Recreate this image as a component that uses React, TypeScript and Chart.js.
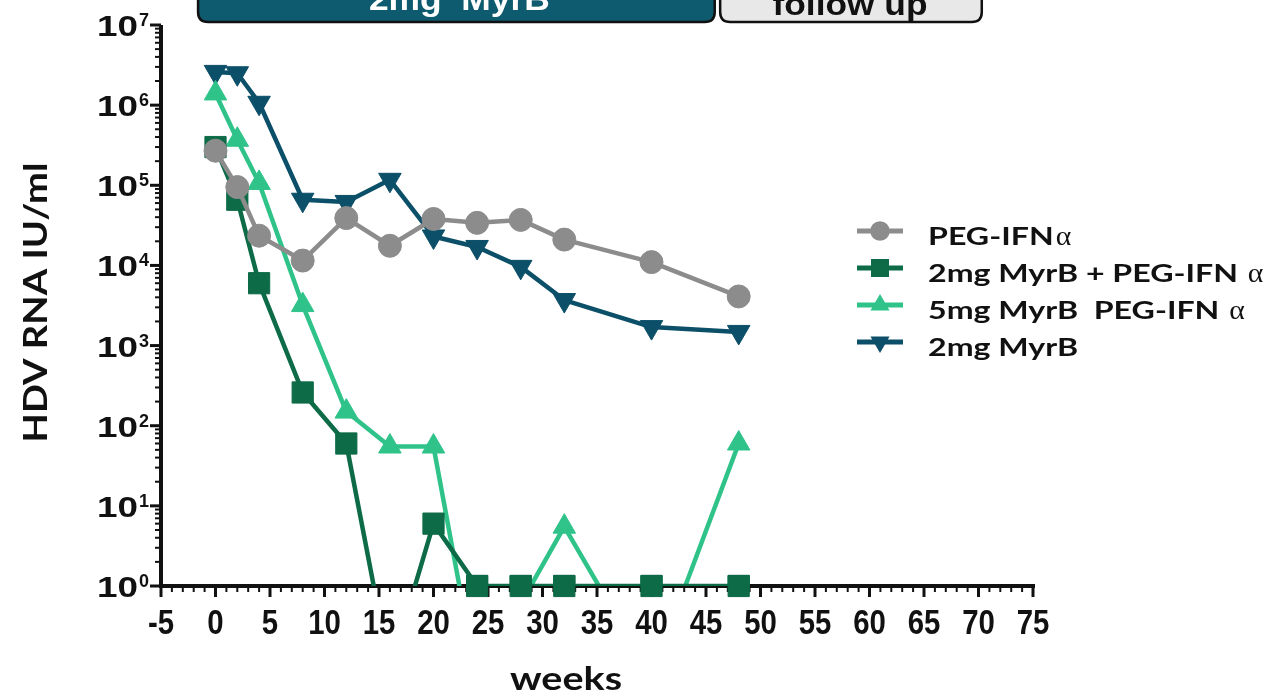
import React, { useEffect, useRef } from 'react';
import { Chart, registerables } from 'chart.js';

Chart.register(...registerables);

// Sampling weeks shared by every treatment arm
const WEEKS = [0, 2, 4, 8, 12, 16, 20, 24, 28, 32, 40, 48];

// Median HDV RNA (IU/ml) per arm; values below 1 fall under the axis floor
const PEG_IFN = [2.7e5, 9.5e4, 2.35e4, 1.15e4, 3.9e4, 1.76e4, 3.8e4, 3.4e4, 3.7e4, 2.1e4, 1.1e4, 4.1e3];
const MYRB2_PEG_IFN = [3.0e5, 6.6e4, 6.0e3, 2.6e2, 60, 0.09, 6, 1, 1, 1, 1, 1];
const MYRB5_PEG_IFN = [1.4e6, 3.7e5, 1.07e5, 3.2e3, 150, 55, 55, 0.065, 0.6, 5.5, 0.075, 60];
const MYRB2 = [2.6e6, 2.5e6, 1.07e6, 6.6e4, 6.2e4, 1.17e5, 2.3e4, 1.7e4, 9.6e3, 3.7e3, 1.7e3, 1.48e3];

const SERIES_LABELS = ['PEG-IFNα', '2mg MyrB + PEG-IFN α', '5mg MyrB  PEG-IFN α', '2mg MyrB'];
const SERIES_COLORS = ['#8c8c8c', '#0d6b48', '#2fc38a', '#0c4f68'];
const SERIES_STYLES = ['circle', 'rect', 'triangle', 'triangle'];
const SERIES_ROTATION = [0, 0, 0, 180];
const SERIES_RADIUS = [11.5, 15, 13, 13];

// Axis ticks
const X_MIN = -5;
const X_MAX = 75;
const X_TICKS = [-5, 0, 5, 10, 15, 20, 25, 30, 35, 40, 45, 50, 55, 60, 65, 70, 75];
const Y_EXPONENTS = [0, 1, 2, 3, 4, 5, 6, 7];

// Study phases shown above the plot (weeks)
const PHASE_LABELS = ['2mg  MyrB', 'follow up'];
const PHASE_START = [-1.6, 46.3];
const PHASE_END = [45.8, 70.3];

const INK = '#111111';
const PHASE_FILL = ['#0e5a6e', '#e8e8e8'];
const PHASE_TEXT = ['#ffffff', '#111111'];

function drawScaled(ctx, text, x, y, font, sx, align = 'left') {
  ctx.save();
  ctx.font = font;
  ctx.textAlign = align;
  ctx.textBaseline = 'alphabetic';
  ctx.translate(x, y);
  ctx.scale(sx, 1);
  ctx.fillText(text, 0, 0);
  ctx.restore();
}

function scaleToWidth(ctx, text, font, width) {
  ctx.save();
  ctx.font = font;
  const w = ctx.measureText(text).width;
  ctx.restore();
  return width / w;
}

function textWidth(ctx, text, font) {
  ctx.save();
  ctx.font = font;
  const w = ctx.measureText(text).width;
  ctx.restore();
  return w;
}

function drawMarker(ctx, style, rotation, x, y, r, color) {
  ctx.save();
  ctx.fillStyle = color;
  ctx.beginPath();
  if (style === 'circle') {
    ctx.arc(x, y, r, 0, Math.PI * 2);
  } else if (style === 'rect') {
    const s = r * Math.SQRT1_2;
    ctx.rect(x - s, y - s, 2 * s, 2 * s);
  } else {
    let rad = (rotation * Math.PI) / 180;
    for (let i = 0; i < 3; i++) {
      const px = x + Math.sin(rad) * r;
      const py = y - Math.cos(rad) * r;
      if (i === 0) ctx.moveTo(px, py);
      else ctx.lineTo(px, py);
      rad += (2 * Math.PI) / 3;
    }
    ctx.closePath();
  }
  ctx.fill();
  ctx.restore();
}

function roundRect(ctx, x0, y0, x1, y1, r) {
  ctx.beginPath();
  ctx.moveTo(x0 + r, y0);
  ctx.lineTo(x1 - r, y0);
  ctx.quadraticCurveTo(x1, y0, x1, y0 + r);
  ctx.lineTo(x1, y1 - r);
  ctx.quadraticCurveTo(x1, y1, x1 - r, y1);
  ctx.lineTo(x0 + r, y1);
  ctx.quadraticCurveTo(x0, y1, x0, y1 - r);
  ctx.lineTo(x0, y0 + r);
  ctx.quadraticCurveTo(x0, y0, x0 + r, y0);
  ctx.closePath();
}

// Axis lines with major and minor tick marks, drawn beneath the series
const axesPlugin = {
  id: 'hdvAxes',
  beforeDatasetsDraw(chart) {
    const { ctx, chartArea: a } = chart;
    const xs = chart.scales.x;
    const ys = chart.scales.y;
    ctx.save();
    ctx.strokeStyle = INK;
    ctx.lineCap = 'butt';
    const seg = (x0, y0, x1, y1, w) => {
      ctx.lineWidth = w;
      ctx.beginPath();
      ctx.moveTo(x0, y0);
      ctx.lineTo(x1, y1);
      ctx.stroke();
    };
    for (let w = X_MIN; w <= X_MAX; w++) {
      const px = xs.getPixelForValue(w);
      const major = w % 5 === 0;
      seg(px, a.bottom, px, a.bottom + (major ? 11 : 6), major ? 3 : 2);
    }
    for (let k = 0; k < Y_EXPONENTS.length; k++) {
      const e = Y_EXPONENTS[k];
      const py = ys.getPixelForValue(Math.pow(10, e));
      seg(a.left - 11, py, a.left, py, 3);
      if (k < Y_EXPONENTS.length - 1) {
        for (let m = 2; m <= 9; m++) {
          const pm = ys.getPixelForValue(m * Math.pow(10, e));
          seg(a.left - 6, pm, a.left, pm, 2);
        }
      }
    }
    seg(a.left - 2, a.bottom, a.right + 2, a.bottom, 4);
    seg(a.left, a.top, a.left, a.bottom + 2, 4);
    ctx.restore();
  },
  afterDatasetsDraw(chart) {
    // markers sitting on the axis floor are drawn again without the plot clip
    const floor = chart.scales.y.min;
    chart.data.datasets.forEach((ds, i) => {
      const meta = chart.getDatasetMeta(i);
      meta.data.forEach((el, j) => {
        if (ds.data[j].y === floor) el.draw(chart.ctx);
      });
    });
  },
};

// Tick labels, titles, legend and the phase bars
const labelsPlugin = {
  id: 'hdvLabels',
  afterDraw(chart) {
    const { ctx, chartArea: a } = chart;
    const xs = chart.scales.x;
    const ys = chart.scales.y;
    ctx.save();
    ctx.fillStyle = INK;

    // x tick labels
    const xFont = 'bold 35px "Liberation Sans", Arial, sans-serif';
    X_TICKS.forEach((t) => {
      drawScaled(ctx, String(t), xs.getPixelForValue(t), a.bottom + 48, xFont, 0.84, 'center');
    });

    // y tick labels as powers of ten
    const baseFont = 'bold 30px "Liberation Sans", Arial, sans-serif';
    const expFont = 'bold 18px "Liberation Sans", Arial, sans-serif';
    const baseSx = scaleToWidth(ctx, '10', baseFont, 41);
    Y_EXPONENTS.forEach((e) => {
      const py = ys.getPixelForValue(Math.pow(10, e));
      drawScaled(ctx, '10', a.left - 23, py + 11, baseFont, baseSx, 'right');
      drawScaled(ctx, String(e), a.left - 22, py + 1, expFont, 1, 'left');
    });

    // axis titles
    const titleFont = 'bold 33px Lato, "Open Sans", sans-serif';
    const yTitle = 'HDV RNA IU/ml';
    const ySx = scaleToWidth(ctx, yTitle, titleFont, 280);
    ctx.save();
    ctx.translate(47, (a.top + a.bottom) / 2 - 3);
    ctx.rotate(-Math.PI / 2);
    drawScaled(ctx, yTitle, 0, 0, titleFont, ySx, 'center');
    ctx.restore();
    const xTitle = 'weeks';
    drawScaled(ctx, xTitle, 566, 690, titleFont, scaleToWidth(ctx, xTitle, titleFont, 112), 'center');

    // legend
    const legFont = 'bold 25px Lato, "Open Sans", sans-serif';
    const alphaFont = '27px "Liberation Serif", "DejaVu Serif", serif';
    const legSx = scaleToWidth(ctx, '2mg MyrB + PEG-IFN', legFont, 310);
    const legX = 928;
    const legY0 = 245;
    const legStep = 37;
    chart.data.datasets.forEach((ds, i) => {
      const base = legY0 + i * legStep;
      const my = base - 14;
      ctx.save();
      ctx.strokeStyle = ds.borderColor;
      ctx.lineWidth = 5;
      ctx.beginPath();
      ctx.moveTo(857, my);
      ctx.lineTo(903, my);
      ctx.stroke();
      ctx.restore();
      drawMarker(ctx, ds.pointStyle, ds.pointRotation, 880, my, ds.pointRadius * 0.85, ds.borderColor);
      const label = ds.label;
      const hasAlpha = label.endsWith('α');
      const main = hasAlpha ? label.slice(0, -1) : label;
      ctx.fillStyle = INK;
      drawScaled(ctx, main, legX, base, legFont, legSx, 'left');
      if (hasAlpha) {
        const w = textWidth(ctx, main, legFont) * legSx;
        drawScaled(ctx, 'α', legX + w + 2, base, alphaFont, 1.1, 'left');
      }
    });

    // phase bars along the top edge
    const phaseFont = 'bold 32px "Liberation Sans", Arial, sans-serif';
    const phaseWidth = [181, 155];
    const phaseBase = [10, 15];
    PHASE_LABELS.forEach((lab, i) => {
      const x0 = xs.getPixelForValue(PHASE_START[i]);
      const x1 = xs.getPixelForValue(PHASE_END[i]);
      ctx.save();
      roundRect(ctx, x0, -20, x1, 22, 10);
      ctx.fillStyle = PHASE_FILL[i];
      ctx.fill();
      ctx.lineWidth = 2.5;
      ctx.strokeStyle = INK;
      ctx.stroke();
      ctx.restore();
      ctx.fillStyle = PHASE_TEXT[i];
      drawScaled(ctx, lab, (x0 + x1) / 2 + (i === 0 ? 3 : -1), phaseBase[i], phaseFont,
        scaleToWidth(ctx, lab, phaseFont, phaseWidth[i]), 'center');
    });

    ctx.restore();
  },
};

export default function App() {
  const canvasRef = useRef(null);

  useEffect(() => {
    const arms = [PEG_IFN, MYRB2_PEG_IFN, MYRB5_PEG_IFN, MYRB2];
    const datasets = arms.map((vals, i) => ({
      label: SERIES_LABELS[i],
      data: WEEKS.map((w, j) => ({ x: w, y: vals[j] })),
      borderColor: SERIES_COLORS[i],
      backgroundColor: SERIES_COLORS[i],
      pointBackgroundColor: SERIES_COLORS[i],
      pointBorderColor: SERIES_COLORS[i],
      pointBorderWidth: 1,
      pointStyle: SERIES_STYLES[i],
      pointRotation: SERIES_ROTATION[i],
      pointRadius: SERIES_RADIUS[i],
      borderWidth: 4.5,
      borderJoinStyle: 'round',
      tension: 0,
      fill: false,
    }));

    const chart = new Chart(canvasRef.current, {
      type: 'line',
      data: { datasets },
      options: {
        responsive: false,
        animation: false,
        events: [],
        layout: { padding: { left: 161, right: 244, top: 25, bottom: 110 } },
        plugins: { legend: { display: false }, tooltip: { enabled: false } },
        scales: {
          x: { type: 'linear', min: X_MIN, max: X_MAX, display: false },
          y: { type: 'logarithmic', min: 1, max: 1e7, display: false },
        },
      },
      plugins: [axesPlugin, labelsPlugin],
    });
    return () => chart.destroy();
  }, []);

  return (
    <div style={{ position: 'fixed', left: 0, top: 0, width: 1277, height: 696, background: '#ffffff' }}>
      <canvas ref={canvasRef} width={1277} height={696} />
    </div>
  );
}
